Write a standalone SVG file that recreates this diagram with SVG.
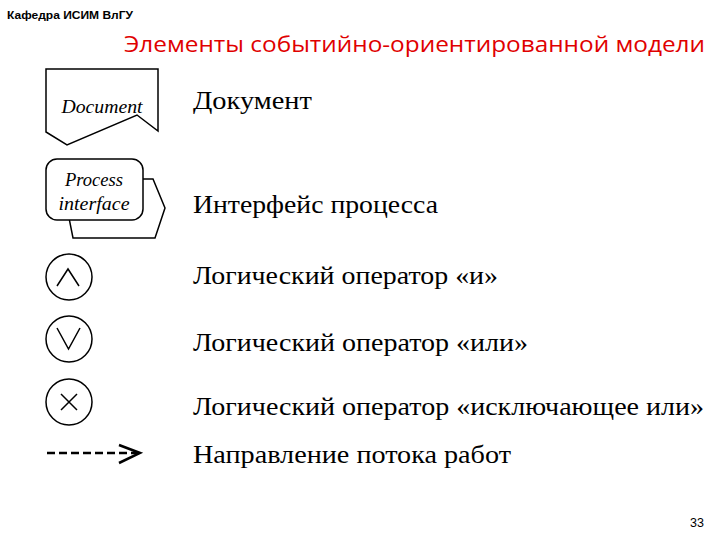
<svg xmlns="http://www.w3.org/2000/svg" width="720" height="540" viewBox="0 0 720 540">
<style>
.shape{fill:#fff;stroke:#000;stroke-width:1.5}
.glyph{fill:none;stroke:#000;stroke-width:1.5}
.lbl{font-family:"Liberation Serif","Times New Roman",serif;font-size:25px;fill:#000}
.itl{font-family:"Liberation Serif","Times New Roman",serif;font-style:italic;font-size:19px;fill:#000;text-anchor:middle}
</style>
<rect width="720" height="540" fill="#fff"/>
<text x="7" y="19" font-family="Liberation Sans,Arial,sans-serif" font-weight="bold" font-size="11" textLength="126" lengthAdjust="spacingAndGlyphs">Кафедра ИСИМ ВлГУ</text>
<text x="124" y="52" font-family="Open Sans,Noto Sans,sans-serif" font-size="21.5" fill="#e00000" textLength="581" lengthAdjust="spacingAndGlyphs">Элементы событийно-ориентированной модели</text>
<g id="document">
<polygon class="shape" points="46,69 158,69 158,131 137,115 67,145 46,132"/>
<text class="itl" x="102" y="113" textLength="81" lengthAdjust="spacingAndGlyphs">Document</text>
</g>
<g id="process-interface">
<polygon class="shape" points="140,179 153,179 165,208 155,238 73,238 69,218"/>
<rect class="shape" x="46" y="159" width="97" height="61" rx="11"/>
<text class="itl" x="94" y="186" textLength="58" lengthAdjust="spacingAndGlyphs">Process</text>
<text class="itl" x="94" y="210" textLength="71" lengthAdjust="spacingAndGlyphs">interface</text>
</g>
<g id="and">
<circle class="shape" cx="69" cy="277" r="23"/>
<polyline class="glyph" points="57,286 68,269 79,286"/>
</g>
<g id="or">
<circle class="shape" cx="69" cy="339" r="23"/>
<polyline class="glyph" points="57,328 68.5,349 80,328"/>
</g>
<g id="xor">
<circle class="shape" cx="69" cy="402" r="23"/>
<path class="glyph" d="M61,394 L77,410 M77,394 L61,410"/>
</g>
<g id="connectors">
<line x1="47" y1="453" x2="138" y2="453" stroke="#000" stroke-width="2.5" stroke-dasharray="8,4"/>
<polyline points="119,445 140,453 119,463" fill="none" stroke="#000" stroke-width="2.5"/>
</g>
<text class="lbl" x="193" y="109" textLength="119" lengthAdjust="spacingAndGlyphs">Документ</text>
<text class="lbl" x="193" y="213" textLength="245" lengthAdjust="spacingAndGlyphs">Интерфейс процесса</text>
<text class="lbl" x="193" y="284" textLength="305" lengthAdjust="spacingAndGlyphs">Логический оператор «и»</text>
<text class="lbl" x="193" y="351" textLength="335" lengthAdjust="spacingAndGlyphs">Логический оператор «или»</text>
<text class="lbl" x="193" y="415" textLength="511" lengthAdjust="spacingAndGlyphs">Логический оператор «исключающее или»</text>
<text class="lbl" x="193" y="463" textLength="318" lengthAdjust="spacingAndGlyphs">Направление потока работ</text>
<text x="704" y="527" text-anchor="end" font-family="Liberation Sans,Arial,sans-serif" font-size="12.5">33</text>
</svg>
